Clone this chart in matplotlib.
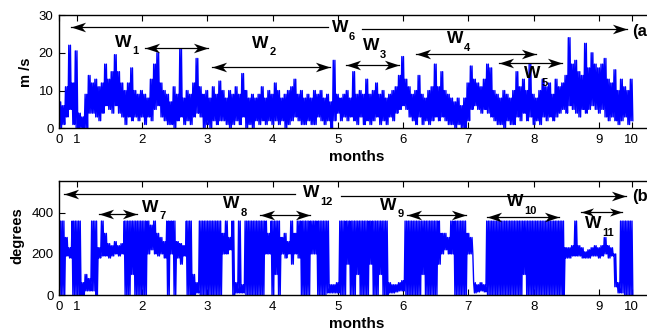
import numpy as np
import matplotlib
matplotlib.use('Agg')
import matplotlib.pyplot as plt
from matplotlib.path import Path

plt.rcParams['font.family'] = ['Liberation Sans', 'DejaVu Sans']

# max i min predkosci w kolejnych kolumnach (co 0.05 miesiaca)
speed_hi = [7, 6, 11, 22, 12, 20.5, 4, 3, 9, 14,
            12, 13, 11, 12, 17, 13, 15, 19.5, 15, 12,
            10, 12, 16, 10, 9, 10, 9, 8, 13, 17,
            20, 12, 10, 9, 7, 11, 9, 21, 8, 10,
            9, 12, 18.5, 11, 9, 10, 8, 11, 9, 12.5,
            10, 8, 10, 9, 11, 9, 14.5, 10, 8, 9,
            8, 9, 11, 8, 10, 9, 12, 10, 8, 9,
            10, 11, 13, 9, 10, 8, 9, 8, 10, 9,
            10, 8, 9, 7, 18, 9, 8, 9, 10, 8,
            15, 9, 10, 9, 13, 9, 10, 12, 9, 10,
            8, 9, 10, 11, 14, 19, 13, 11, 9, 10,
            14, 9, 8, 10, 11, 17, 11, 15, 10, 9,
            8, 7, 8, 6, 8, 12, 16.5, 13, 12, 11,
            13, 17, 16, 10, 9, 8, 10, 9, 8, 10,
            15, 11, 13, 10, 17, 9, 8, 10, 13, 11,
            12, 9, 13, 11, 12, 14, 24, 17, 18, 15,
            14, 22.5, 16, 20, 17, 16, 17, 18.5, 13, 12,
            15.5, 10, 13, 11, 10, 13]
speed_lo = [0, 1, 3, 5, 1, 0, 0, 0, 0, 4,
            4, 3, 2, 4, 6, 5, 4, 6, 4, 3,
            1, 3, 2, 3, 2, 3, 1, 3, 2, 5,
            6, 3, 2, 1, 1, 0, 2, 3, 1, 2,
            1, 3, 4, 3, 0, 1, 0, 2, 1, 2,
            2, 1, 0, 1, 2, 1, 3, 0, 1, 0,
            2, 1, 2, 1, 2, 1, 2, 1, 2, 0,
            1, 2, 3, 2, 1, 1, 2, 1, 1, 3,
            2, 1, 2, 0, 2, 4, 2, 3, 2, 3,
            2, 1, 3, 1, 2, 1, 2, 3, 1, 2,
            1, 3, 2, 4, 5, 6, 5, 3, 2, 1,
            3, 1, 2, 1, 2, 3, 2, 3, 2, 1,
            1, 0, 1, 0, 0, 2, 5, 6, 5, 4,
            5, 4, 3, 2, 1, 1, 0, 2, 1, 1,
            3, 2, 4, 2, 3, 1, 2, 1, 3, 2,
            3, 2, 3, 4, 5, 4, 6, 5, 4, 3,
            5, 4, 5, 6, 5, 4, 5, 3, 2, 3,
            2, 1, 2, 3, 1, 2]

# kierunek wiatru (stopnie), max i min w kolumnach
dir_hi = [360, 360, 280, 230, 360, 360, 360, 60, 100, 80,
          360, 360, 230, 360, 300, 250, 240, 260, 240, 250,
          360, 360, 360, 360, 360, 360, 360, 360, 340, 360,
          300, 280, 260, 360, 360, 360, 260, 250, 240, 360,
          360, 100, 60, 360, 360, 360, 360, 360, 360, 360,
          300, 360, 280, 360, 60, 360, 50, 360, 360, 360,
          360, 360, 360, 360, 300, 360, 360, 360, 280, 300,
          260, 360, 300, 360, 360, 360, 360, 360, 360, 360,
          360, 360, 360, 50, 50, 60, 360, 360, 360, 360,
          360, 360, 360, 360, 360, 360, 360, 360, 360, 360,
          360, 60, 50, 50, 60, 70, 360, 360, 360, 360,
          360, 360, 360, 360, 360, 360, 360, 300, 300, 280,
          360, 360, 360, 360, 360, 300, 280, 60, 50, 60,
          50, 360, 360, 360, 360, 360, 360, 360, 360, 360,
          360, 360, 360, 360, 360, 360, 360, 360, 360, 360,
          360, 360, 360, 360, 360, 230, 230, 240, 360, 240,
          230, 210, 220, 230, 240, 230, 240, 280, 240, 230,
          200, 60, 360, 360, 360, 360]
dir_lo = [0, 0, 190, 180, 0, 0, 0, 0, 20, 20,
          20, 0, 180, 190, 190, 180, 190, 200, 190, 200,
          0, 0, 100, 0, 0, 0, 0, 200, 220, 200,
          190, 200, 180, 0, 200, 0, 180, 150, 190, 0,
          0, 0, 10, 0, 0, 0, 0, 0, 0, 0,
          200, 200, 220, 0, 10, 10, 10, 0, 0, 0,
          0, 0, 0, 200, 200, 0, 100, 0, 200, 180,
          200, 150, 200, 180, 0, 0, 0, 200, 200, 0,
          0, 0, 10, 10, 10, 10, 0, 0, 150, 0,
          0, 100, 0, 0, 0, 150, 0, 0, 100, 0,
          0, 10, 10, 15, 20, 20, 0, 0, 0, 0,
          0, 100, 0, 0, 0, 0, 150, 200, 220, 200,
          200, 0, 0, 0, 0, 200, 200, 10, 15, 20,
          15, 0, 0, 0, 0, 0, 0, 0, 0, 0,
          0, 0, 100, 0, 0, 0, 0, 0, 0, 0,
          0, 0, 0, 0, 0, 180, 180, 190, 190, 190,
          180, 180, 180, 190, 190, 180, 190, 200, 180, 190,
          40, 10, 10, 0, 0, 0]

tick_pos = [0, 0.27, 1.27, 2.27, 3.27, 4.27, 5.27, 6.27, 7.27, 8.27, 8.77]
tick_lab = ['0', '1', '2', '3', '4', '5', '6', '7', '8', '9', '10']

# okna W: (nr, x tekstu, y tekstu, x start strzalki, x koniec, y strzalki)
okna_a = [('1', 0.86, 21.6, 1.32, 2.28, 21.2),
          ('2', 2.96, 21.3, 2.34, 4.15, 16.3),
          ('3', 4.65, 20.7, 4.39, 5.20, 16.75),
          ('4', 5.94, 22.5, 5.46, 7.30, 19.6),
          ('5', 7.12, 13.2, 6.74, 7.71, 17.2)]
okna_b = [('7', 1.27, 406, 0.61, 1.20, 395),
          ('8', 2.51, 423, 3.08, 3.85, 390),
          ('9', 4.92, 415, 5.33, 6.24, 390),
          ('10', 6.86, 431, 6.55, 7.66, 382),
          ('11', 8.055, 325, 7.99, 8.62, 406)]

months = np.arange(len(speed_hi)) * 0.05

# grot strzalki z wcieciem (jak w matlabie), czubek w (0,0)
grot_p = Path([(0, 0), (-1, 0.33), (-0.72, 0), (-1, -0.33), (0, 0)],
              [Path.MOVETO, Path.LINETO, Path.LINETO, Path.LINETO, Path.CLOSEPOLY])
grot_l = Path([(0, 0), (1, 0.33), (0.72, 0), (1, -0.33), (0, 0)],
              [Path.MOVETO, Path.LINETO, Path.LINETO, Path.LINETO, Path.CLOSEPOLY])


def zygzak(hi, lo):
    # kazda kolumna rysowana jako dwa pionowe pociagniecia hi-lo
    x = np.column_stack([months, months + 0.0125, months + 0.025, months + 0.0375]).ravel()
    y = np.column_stack([hi, lo, hi, lo]).ravel()
    return x, y


def strzalka(ax, x1, x2, y, oba=True, ms=21):
    ax.plot([x1, x2], [y, y], color='k', lw=0.9, clip_on=False)
    ax.plot([x2], [y], marker=grot_p if x2 > x1 else grot_l, ms=ms, color='k',
            mew=0, clip_on=False)
    if oba:
        ax.plot([x1], [y], marker=grot_l if x2 > x1 else grot_p, ms=ms, color='k',
                mew=0, clip_on=False)


def etykieta(ax, x, y, nr):
    ax.text(x, y, 'W', fontsize=12.5, fontweight='bold', va='baseline', ha='left')
    ax.annotate(nr, xy=(x, y), xytext=(12.5, -5.5), textcoords='offset points',
                fontsize=8, fontweight='bold', va='baseline', ha='left')


def osie(ax):
    ax.set_xlim(0, 596 / 65.3)
    ax.set_xticks(tick_pos)
    ax.set_xticklabels(tick_lab)
    ax.tick_params(direction='in', length=4, labelsize=9.5, top=True, right=True, pad=4)
    for s in ax.spines.values():
        s.set_linewidth(1)


fig = plt.figure(figsize=(6.47, 3.31), dpi=100)
ax1 = fig.add_axes([59 / 647, 1 - 128.3 / 331, 596 / 647, 113.3 / 331])
ax2 = fig.add_axes([59 / 647, 1 - 295 / 331, 596 / 647, 114 / 331])

x, y = zygzak(speed_hi, speed_lo)
ax1.plot(x, y, color='b', lw=1.0)
ax1.set_ylim(0, 30)
ax1.set_yticks([0, 10, 20, 30])
osie(ax1)

x, y = zygzak(dir_hi, dir_lo)
ax2.plot(x, y, color='b', lw=1.0)
ax2.set_ylim(0, 555)
ax2.set_yticks([0, 200, 400])
osie(ax2)

# W1..W5 i W6
for nr, tx, ty, a1, a2, ay in okna_a:
    etykieta(ax1, tx, ty, nr)
    strzalka(ax1, a1, a2, ay)
etykieta(ax1, 4.176, 25.5, '6')
strzalka(ax1, 4.12, 0.18, 26.8, oba=False)
strzalka(ax1, 4.64, 8.70, 26.4, oba=False)
ax1.text(8.78, 25.5, '(a', fontsize=12, fontweight='bold', va='center', clip_on=False)

# W7..W11 i W12
for nr, tx, ty, a1, a2, ay in okna_b:
    etykieta(ax2, tx, ty, nr)
    strzalka(ax2, a1, a2, ay, ms=18 if nr == '11' else 21)
etykieta(ax2, 3.73, 475, '12')
strzalka(ax2, 3.61, 0.07, 491, oba=False)
strzalka(ax2, 4.32, 8.69, 483, oba=False)
ax2.text(8.78, 480, '(b', fontsize=12, fontweight='bold', va='center', clip_on=False)

fig.text(26 / 647, 1 - 72 / 331, 'm /s', rotation=90, fontsize=10.5, fontweight='bold',
         ha='center', va='center')
fig.text(17 / 647, 1 - 236 / 331, 'degrees', rotation=90, fontsize=10.5, fontweight='bold',
         ha='center', va='center')
fig.text(357 / 647, 1 - 157 / 331, 'months', fontsize=11, fontweight='bold', ha='center', va='center')
fig.text(357 / 647, 1 - 324.5 / 331, 'months', fontsize=11, fontweight='bold', ha='center', va='center')

fig.savefig('out.png', dpi=100)
